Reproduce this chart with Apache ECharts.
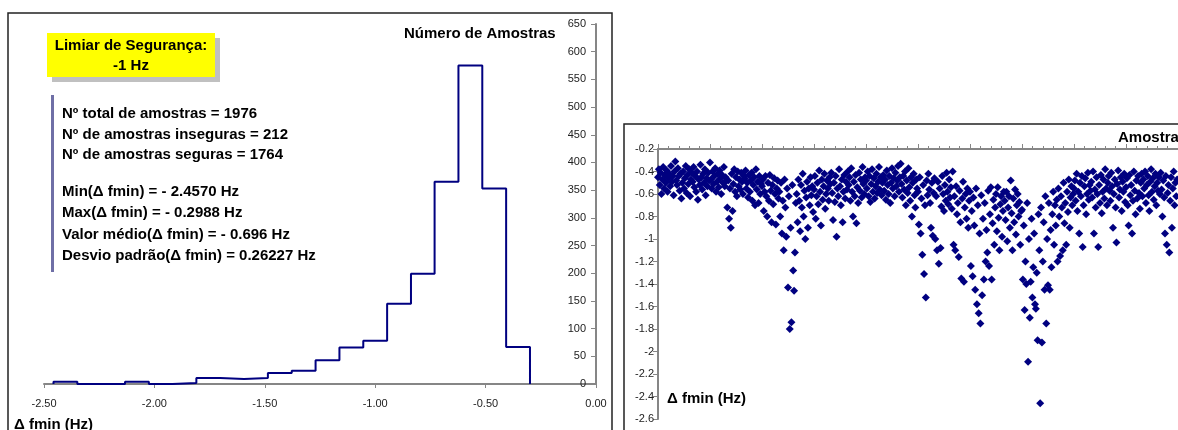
<!DOCTYPE html>
<html>
<head>
<meta charset="utf-8">
<script src="https://cdn.jsdelivr.net/npm/echarts@6/dist/echarts.min.js"></script>
<style>
  html, body { margin: 0; padding: 0; background: #fff; }
  #main { width: 1178px; height: 430px; }
</style>
</head>
<body>
<div id="main"></div>
<script>
// histograma: limites das classes e contagens
var binEdges = [-2.457, -2.349, -2.241, -2.133, -2.025, -1.918, -1.810, -1.702, -1.594, -1.486, -1.378,
                -1.270, -1.162, -1.054, -0.946, -0.838, -0.731, -0.623, -0.515, -0.407, -0.299];
var binCounts = [4, 0, 0, 4, 0, 2, 11, 9, 11, 20, 24, 43, 66, 78, 145, 199, 365, 575, 353, 67];

// textos
var limiarLines = ['Limiar de Segurança:', '-1 Hz'];
var statLines = [
  'Nº total de amostras = 1976',
  'Nº de amostras inseguras = 212',
  'Nº de amostras seguras = 1764',
  '',
  'Min(Δ fmin) = - 2.4570 Hz',
  'Max(Δ fmin) = - 0.2988 Hz',
  'Valor médio(Δ fmin) = - 0.696 Hz',
  'Desvio padrão(Δ fmin) = 0.26227 Hz'
];

// Δfmin por amostra (parte visível do gráfico da direita)
var deltaFmin = [
  -0.45,-0.38,-0.52,-0.41,-0.60,-0.47,-0.36,-0.55,-0.43,-0.50,-0.39,-0.58,-0.46,-0.42,-0.53,-0.35,-0.49,-0.44,-0.61,-0.40,
  -0.31,-0.48,-0.52,-0.37,-0.44,-0.57,-0.42,-0.64,-0.50,-0.40,-0.55,-0.46,-0.35,-0.59,-0.43,-0.51,-0.38,-0.62,-0.47,-0.41,
  -0.49,-0.36,-0.54,-0.44,-0.58,-0.40,-0.65,-0.47,-0.52,-0.34,-0.45,-0.56,-0.42,-0.50,-0.38,-0.61,-0.46,-0.53,-0.41,-0.48,
  -0.32,-0.47,-0.55,-0.40,-0.51,-0.44,-0.37,-0.58,-0.49,-0.42,-0.54,-0.39,-0.46,-0.60,-0.43,-0.50,-0.36,-0.53,-0.45,-0.48,
  -0.72,-0.48,-0.82,-0.55,-0.90,-0.42,-0.75,-0.51,-0.38,-0.58,-0.45,-0.62,-0.40,-0.53,-0.47,-0.56,-0.41,-0.49,-0.60,-0.44,
  -0.46,-0.39,-0.55,-0.50,-0.63,-0.43,-0.58,-0.48,-0.41,-0.66,-0.52,-0.45,-0.70,-0.38,-0.56,-0.49,-0.68,-0.44,-0.60,-0.51,
  -0.53,-0.47,-0.75,-0.58,-0.44,-0.62,-0.80,-0.50,-0.66,-0.43,-0.57,-0.85,-0.52,-0.69,-0.46,-0.60,-0.87,-0.55,-0.48,-0.64,
  -0.58,-0.80,-0.50,-0.95,-0.66,-1.10,-0.47,-0.72,-0.98,-0.55,-1.43,-0.62,-1.80,-0.90,-1.74,-0.52,-1.28,-1.46,-1.12,-0.68,
  -0.60,-0.85,-0.47,-0.66,-0.93,-0.52,-0.72,-0.42,-0.80,-0.57,-1.00,-0.63,-0.49,-0.90,-0.55,-0.70,-0.45,-0.61,-0.53,-0.76,
  -0.56,-0.44,-0.82,-0.62,-0.50,-0.69,-0.39,-0.58,-0.88,-0.47,-0.65,-0.53,-0.42,-0.73,-0.60,-0.48,-0.55,-0.66,-0.45,-0.51,
  -0.41,-0.59,-0.83,-0.50,-0.67,-0.44,-0.98,-0.55,-0.62,-0.38,-0.53,-0.70,-0.47,-0.85,-0.58,-0.43,-0.64,-0.49,-0.56,-0.40,
  -0.52,-0.45,-0.66,-0.37,-0.58,-0.80,-0.49,-0.62,-0.43,-0.86,-0.54,-0.68,-0.41,-0.57,-0.47,-0.63,-0.36,-0.51,-0.60,-0.45,
  -0.48,-0.55,-0.40,-0.62,-0.44,-0.67,-0.51,-0.38,-0.58,-0.46,-0.64,-0.53,-0.42,-0.59,-0.49,-0.36,-0.56,-0.45,-0.61,-0.50,
  -0.43,-0.57,-0.47,-0.65,-0.39,-0.52,-0.60,-0.44,-0.68,-0.50,-0.37,-0.55,-0.46,-0.62,-0.41,-0.53,-0.48,-0.35,-0.58,-0.45,
  -0.33,-0.51,-0.63,-0.44,-0.56,-0.40,-0.70,-0.48,-0.59,-0.37,-0.54,-0.66,-0.45,-0.80,-0.50,-0.42,-0.61,-0.72,-0.47,-0.55,
  -0.58,-0.87,-0.45,-0.95,-0.64,-1.14,-0.52,-1.31,-0.70,-1.52,-0.48,-0.61,-0.42,-0.56,-0.68,-0.90,-0.50,-0.97,-0.59,-0.46,
  -1.00,-0.62,-1.10,-0.49,-1.22,-0.55,-1.08,-0.71,-0.44,-0.60,-0.75,-0.52,-0.66,-0.41,-0.58,-0.69,-0.47,-0.63,-0.54,-0.73,
  -0.40,-1.05,-0.62,-1.10,-0.53,-0.78,-0.68,-1.16,-0.57,-0.85,-1.35,-0.64,-0.49,-1.38,-0.72,-0.60,-0.82,-0.55,-0.90,-0.66,
  -0.58,-1.24,-0.75,-1.33,-0.63,-0.88,-1.45,-0.55,-1.58,-0.70,-1.66,-0.95,-1.75,-0.61,-1.50,-0.82,-1.36,-0.68,-1.20,-0.92,
  -1.12,-0.57,-1.24,-0.78,-0.54,-1.36,-0.86,-0.65,-1.05,-0.72,-0.60,-0.93,-0.54,-0.81,-1.10,-0.69,-0.62,-0.98,-0.75,-0.58,
  -0.66,-0.83,-0.58,-1.02,-0.72,-0.62,-0.90,-0.48,-0.77,-1.10,-0.64,-0.85,-0.56,-0.96,-0.70,-0.60,-0.80,-0.67,-1.05,-0.75,
  -0.74,-1.36,-0.88,-1.63,-1.20,-1.40,-0.68,-2.09,-1.00,-1.70,-1.38,-0.82,-1.52,-1.25,-0.95,-1.58,-1.62,-1.30,-1.90,-0.78,
  -1.10,-2.46,-0.72,-1.92,-1.20,-0.85,-1.45,-0.62,-1.75,-1.00,-1.41,-0.68,-1.45,-0.92,-1.25,-0.78,-0.58,-1.05,-0.70,-0.88,
  -0.65,-1.20,-0.55,-0.80,-1.15,-0.62,-0.72,-1.10,-0.50,-0.86,-0.68,-1.05,-0.58,-0.76,-0.47,-0.90,-0.63,-0.53,-0.70,-0.60,
  -0.55,-0.48,-0.66,-0.42,-0.75,-0.58,-0.95,-0.50,-0.62,-0.44,-1.07,-0.70,-0.53,-0.46,-0.78,-0.60,-0.41,-0.65,-0.52,-0.57,
  -0.49,-0.63,-0.40,-0.95,-0.56,-0.72,-0.45,-0.60,-1.07,-0.52,-0.68,-0.43,-0.77,-0.58,-0.47,-0.64,-0.38,-0.55,-0.70,-0.50,
  -0.44,-0.57,-0.66,-0.41,-0.53,-0.90,-0.60,-0.47,-0.72,-1.03,-0.51,-0.39,-0.63,-0.56,-0.45,-0.75,-0.49,-0.58,-0.42,-0.67,
  -0.54,-0.46,-0.70,-0.88,-0.43,-0.61,-0.52,-0.95,-0.66,-0.40,-0.57,-0.78,-0.48,-0.64,-0.44,-0.59,-0.73,-0.50,-0.42,-0.62,
  -0.47,-0.55,-0.40,-0.68,-0.52,-0.44,-0.61,-0.75,-0.49,-0.38,-0.58,-0.46,-0.65,-0.53,-0.42,-0.70,-0.50,-0.57,-0.45,-0.60,
  -0.41,-0.56,-0.80,-0.48,-0.63,-0.95,-0.44,-1.05,-0.59,-0.52,-1.12,-0.66,-0.45,-0.90,-0.55,-0.40,-0.70,-0.50,-0.62,-0.47
];

var FONT = '"Liberation Sans", Arial, sans-serif';
var NAVY = '#000080';
var AXIS = '#868686';

// linha em degraus do histograma
var histData = [[binEdges[0], 0]];
for (var i = 0; i < binCounts.length; i++) {
  histData.push([binEdges[i], binCounts[i]]);
}
histData.push([binEdges[binEdges.length - 1], 0]);

var scatterData = deltaFmin.map(function (v, k) { return [k, v]; });

var graphics = [
  // molduras
  { type: 'rect', shape: { x: 8, y: 13, width: 604, height: 440 }, style: { fill: null, stroke: '#222', lineWidth: 1.5 }, silent: true },
  { type: 'rect', shape: { x: 624, y: 124, width: 600, height: 340 }, style: { fill: null, stroke: '#222', lineWidth: 1.5 }, silent: true },
  // caixa amarela com sombra
  { type: 'rect', shape: { x: 52, y: 38, width: 168, height: 44 }, style: { fill: '#c0c0c0' }, silent: true },
  { type: 'rect', shape: { x: 47, y: 33, width: 168, height: 44 }, style: { fill: '#ffff00' }, silent: true },
  // barra vertical
  { type: 'rect', shape: { x: 51, y: 95, width: 3, height: 177 }, style: { fill: '#6f6fa6' }, silent: true },
  { type: 'text', x: 404, y: 34, style: { text: 'Número de Amostras', font: 'bold 15px ' + FONT, fill: '#000', verticalAlign: 'middle' } },
  { type: 'text', x: 14, y: 425, style: { text: 'Δ fmin (Hz)', font: 'bold 15px ' + FONT, fill: '#000', verticalAlign: 'middle' } },
  { type: 'text', x: 1118, y: 138, style: { text: 'Amostras', font: 'bold 15px ' + FONT, fill: '#000', verticalAlign: 'middle' } },
  { type: 'text', x: 667, y: 399, style: { text: 'Δ fmin (Hz)', font: 'bold 15px ' + FONT, fill: '#000', verticalAlign: 'middle' } }
];
limiarLines.forEach(function (t, k) {
  graphics.push({ type: 'text', x: 131, y: 46 + k * 20, style: { text: t, font: 'bold 15px ' + FONT, fill: '#000', align: 'center', verticalAlign: 'middle' } });
});
statLines.forEach(function (t, k) {
  if (!t) return;
  var y = k < 3 ? 114 + k * 20.5 : 192 + (k - 4) * 21.3;
  graphics.push({ type: 'text', x: 62, y: y, style: { text: t, font: 'bold 15px ' + FONT, fill: '#000', verticalAlign: 'middle' } });
});

var myChart = echarts.init(document.getElementById('main'), null, { renderer: 'canvas' });
var option = {
  animation: false,
  backgroundColor: '#fff',
  textStyle: { fontFamily: FONT },
  grid: [
    { left: 44, top: 24, width: 552, height: 360 },
    { left: 658, top: 149, width: 527, height: 270 }
  ],
  xAxis: [
    {
      gridIndex: 0, type: 'value', min: -2.5, max: 0, interval: 0.5,
      axisLine: { onZero: false, lineStyle: { color: AXIS, width: 2 } },
      axisTick: { show: true, length: 4, lineStyle: { color: AXIS } },
      axisLabel: {
        color: '#222', fontSize: 11, margin: 14,
        formatter: function (v) { return v.toFixed(2); }
      },
      splitLine: { show: false }
    },
    {
      gridIndex: 1, type: 'value', min: 0, max: 600, interval: 60, position: 'top',
      axisLine: { onZero: false, lineStyle: { color: AXIS, width: 2 } },
      axisTick: { show: true, length: 5, lineStyle: { color: AXIS } },
      minorTick: { show: true, splitNumber: 5, length: 3, lineStyle: { color: AXIS } },
      axisLabel: { show: false },
      splitLine: { show: false }
    }
  ],
  yAxis: [
    {
      gridIndex: 0, type: 'value', min: 0, max: 650, interval: 50, position: 'right',
      axisLine: { show: true, onZero: false, lineStyle: { color: AXIS, width: 2 } },
      axisTick: { show: true, inside: true, length: 5, lineStyle: { color: AXIS } },
      axisLabel: { inside: true, color: '#222', fontSize: 11, margin: 10 },
      splitLine: { show: false }
    },
    {
      gridIndex: 1, type: 'value', min: -2.6, max: -0.2, interval: 0.2,
      axisLine: { show: true, onZero: false, lineStyle: { color: AXIS, width: 2 } },
      axisTick: { show: true, length: 5, lineStyle: { color: AXIS } },
      axisLabel: { color: '#222', fontSize: 11, margin: 4 },
      splitLine: { show: false }
    }
  ],
  series: [
    {
      type: 'line', xAxisIndex: 0, yAxisIndex: 0, step: 'end',
      data: histData, showSymbol: false,
      lineStyle: { color: NAVY, width: 2 }
    },
    {
      type: 'scatter', xAxisIndex: 1, yAxisIndex: 1,
      data: scatterData, symbol: 'diamond', symbolSize: 8,
      itemStyle: { color: NAVY, opacity: 1 }
    }
  ],
  graphic: graphics
};
myChart.setOption(option);
</script>
</body>
</html>
